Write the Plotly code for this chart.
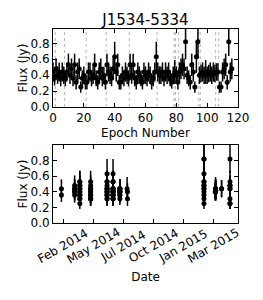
import plotly.graph_objects as go

title_text = "J1534-5334"

# Flux per epoch (Jy), epochs 0..116
flux = [
    0.44, 0.36,
    0.48, 0.40, 0.44, 0.36, 0.44, 0.40,
    0.36, 0.44, 0.53, 0.40, 0.48, 0.36, 0.53, 0.31, 0.44, 0.48, 0.25, 0.36, 0.40, 0.31,
    0.31, 0.44, 0.44, 0.36, 0.40, 0.53, 0.36, 0.31, 0.44, 0.48, 0.36, 0.40, 0.31,
    0.53, 0.44, 0.40, 0.36, 0.48, 0.63, 0.44, 0.53, 0.31, 0.31, 0.40, 0.36, 0.44, 0.40, 0.36,
    0.53, 0.40, 0.53, 0.36, 0.31, 0.44, 0.40, 0.36, 0.31, 0.44, 0.40, 0.36, 0.44, 0.40, 0.31, 0.36, 0.44, 0.63,
    0.44, 0.40, 0.40, 0.44, 0.36, 0.44, 0.40, 0.44, 0.36, 0.31, 0.40,
    0.44,
    0.40, 0.31,
    0.44, 0.48, 0.53, 0.48, 0.82, 0.40, 0.36, 0.31, 0.53, 0.44, 0.25, 0.63, 0.82,
    0.40,
    0.42, 0.44, 0.40, 0.44, 0.40, 0.42, 0.44, 0.40, 0.44, 0.42,
    0.44, 0.44,
    0.25, 0.25, 0.44, 0.48, 0.53, 0.31, 0.82, 0.44, 0.48,
]

flux_err = [
    0.12, 0.09,
    0.13, 0.11, 0.12, 0.10, 0.12, 0.11,
    0.10, 0.12, 0.14, 0.11, 0.13, 0.10, 0.14, 0.09, 0.12, 0.13, 0.07, 0.10, 0.11, 0.09,
    0.09, 0.12, 0.12, 0.10, 0.11, 0.14, 0.10, 0.09, 0.12, 0.13, 0.10, 0.11, 0.09,
    0.14, 0.12, 0.11, 0.10, 0.13, 0.19, 0.12, 0.14, 0.09, 0.09, 0.11, 0.10, 0.12, 0.11, 0.10,
    0.14, 0.11, 0.14, 0.10, 0.09, 0.12, 0.11, 0.10, 0.09, 0.12, 0.11, 0.10, 0.12, 0.11, 0.09, 0.10, 0.12, 0.19,
    0.12, 0.11, 0.11, 0.12, 0.10, 0.12, 0.11, 0.12, 0.10, 0.08, 0.11,
    0.15,
    0.11, 0.09,
    0.12, 0.13, 0.14, 0.13, 0.22, 0.11, 0.10, 0.09, 0.14, 0.12, 0.07, 0.20, 0.20,
    0.11,
    0.11, 0.12, 0.11, 0.15, 0.11, 0.11, 0.12, 0.11, 0.12, 0.11,
    0.11, 0.11,
    0.07, 0.07, 0.12, 0.13, 0.14, 0.09, 0.18, 0.12, 0.13,
]

# Observation dates and how many consecutive epochs belong to each
obs_dates = [
    "2014-01-22", "2014-02-24", "2014-03-09", "2014-04-05", "2014-05-16",
    "2014-05-31", "2014-06-17", "2014-07-05", "2014-07-06", "2015-01-13",
    "2015-02-10", "2015-02-11", "2015-02-26", "2015-03-19",
]
obs_counts = [2, 6, 14, 13, 15, 18, 11, 1, 2, 13, 1, 10, 2, 9]

epoch_ticks = [0, 20, 40, 60, 80, 100, 120]
flux_ticks = [0.0, 0.2, 0.4, 0.6, 0.8]
flux_tick_labels = ["0.0", "0.2", "0.4", "0.6", "0.8"]
date_tick_vals = ["2014-01-26", "2014-04-11", "2014-06-25",
                  "2014-09-08", "2014-11-22", "2015-02-05"]
date_tick_labels = ["Feb 2014", "May 2014", "Jul 2014",
                    "Oct 2014", "Jan 2015", "Mar 2015"]

epochs = list(range(len(flux)))
dates = []
for d, c in zip(obs_dates, obs_counts):
    dates += [d] * c
change_epochs = [i - 0.5 for i in range(1, len(dates)) if dates[i] != dates[i - 1]]

FONT = "DejaVu Sans"
fig = go.Figure()

marker = dict(color="black", size=5)
err_style = dict(color="black", thickness=1.5, width=0)

fig.add_trace(go.Scatter(
    x=epochs, y=flux, mode="markers", marker=marker,
    error_y=dict(type="data", array=flux_err, visible=True, **err_style),
    xaxis="x", yaxis="y", showlegend=False,
))
fig.add_trace(go.Scatter(
    x=dates, y=flux, mode="markers", marker=marker,
    error_y=dict(type="data", array=flux_err, visible=True, **err_style),
    xaxis="x2", yaxis="y2", showlegend=False,
))

for e in change_epochs:
    fig.add_shape(type="line", xref="x", yref="y domain", x0=e, x1=e, y0=0, y1=1,
                  line=dict(color="#b4b4b4", width=1, dash="dot"), layer="below")

axis_common = dict(
    showline=True, linecolor="black", linewidth=1, mirror="ticks",
    ticks="inside", ticklen=4, tickcolor="black", tickwidth=1,
    showgrid=False, zeroline=False, automargin=False,
    tickfont=dict(family=FONT, size=12, color="black"),
)

annotations = []
for v, t in zip(date_tick_vals, date_tick_labels):
    annotations.append(dict(
        x=v, xref="x2", y=0, yref="paper", yshift=-23,
        text=t, textangle=-30, showarrow=False,
        xanchor="center", yanchor="middle",
        font=dict(family=FONT, size=12, color="black"),
    ))

fig.update_layout(
    width=263, height=300,
    margin=dict(l=53, r=25, t=29, b=77),
    paper_bgcolor="white", plot_bgcolor="white",
    title=dict(text=title_text, x=0.553, xanchor="center", y=0.933, yanchor="middle",
               font=dict(family=FONT, size=15, color="black")),
    xaxis=dict(domain=[0, 1], range=[0, 120], anchor="y", tickvals=epoch_ticks,
               title=dict(text="Epoch Number", standoff=4,
                          font=dict(family=FONT, size=12, color="black")),
               **axis_common),
    yaxis=dict(domain=[0.598, 1], range=[0, 0.98], anchor="x", tickvals=flux_ticks,
               ticktext=flux_tick_labels,
               title=dict(text="Flux (Jy)", standoff=0,
                          font=dict(family=FONT, size=12, color="black")),
               **axis_common),
    xaxis2=dict(domain=[0, 1], type="date", range=["2014-01-01", "2015-04-08"],
                anchor="y2", tickvals=date_tick_vals, showticklabels=False,
                title=dict(text="Date", standoff=49,
                           font=dict(family=FONT, size=12, color="black")),
                **axis_common),
    yaxis2=dict(domain=[0, 0.402], range=[0, 1.0], anchor="x2", tickvals=flux_ticks,
                ticktext=flux_tick_labels,
                title=dict(text="Flux (Jy)", standoff=0,
                           font=dict(family=FONT, size=12, color="black")),
                **axis_common),
    annotations=annotations,
)

fig.write_html("out.html", config={"displayModeBar": False},
               post_script="document.body.style.margin='0px';")
